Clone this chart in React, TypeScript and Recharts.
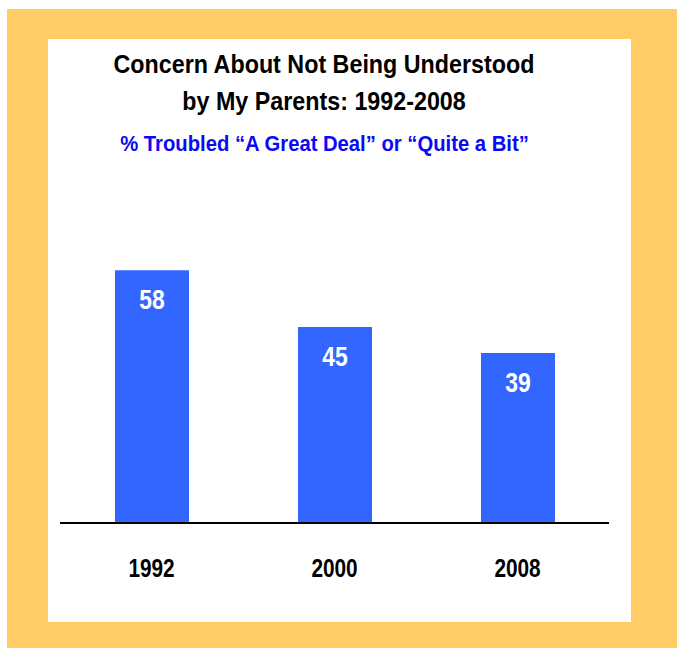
import React from "react";
import { BarChart, Bar, XAxis, YAxis, LabelList } from "recharts";

const years = ["1992", "2000", "2008"];
const values = [58, 45, 39];
const titleLines = ["Concern About Not Being Understood", "by My Parents: 1992-2008"];
const subtitle = "% Troubled \u201CA Great Deal\u201D or \u201CQuite a Bit\u201D";

const data = years.map((y, i) => ({ year: y, value: values[i] }));

const FONT = "'Liberation Sans', Arial, Helvetica, sans-serif";

const YearTick = (props: any) => {
  const { x, y, payload } = props;
  return (
    <g transform={`translate(${x},${y + 46}) scale(0.8,1)`}>
      <text x={0} y={0} textAnchor="middle" fontFamily={FONT} fontWeight="bold" fontSize={26} fill="#000">
        {payload.value}
      </text>
    </g>
  );
};

const ValueLabel = (props: any) => {
  const { x, y, width, value } = props;
  const cx = Number(x) + Number(width) / 2;
  return (
    <g transform={`translate(${cx},${Number(y) + 39}) scale(0.85,1)`}>
      <text x={0} y={0} textAnchor="middle" fontFamily={FONT} fontWeight="bold" fontSize={27} fill="#fff">
        {value}
      </text>
    </g>
  );
};

export default function App() {
  return (
    <div style={{ position: "absolute", left: 0, top: 0, width: 677, height: 648, background: "#fff" }}>
      <div style={{ position: "absolute", left: 7, top: 9, width: 670, height: 639, background: "#FFCC66" }} />
      <div style={{ position: "absolute", left: 48, top: 39, width: 583, height: 583, background: "#fff" }} />
      <div style={{ position: "absolute", left: 0, top: 0 }}>
        <BarChart
          width={677}
          height={648}
          data={data}
          margin={{ top: 218, right: 68, bottom: 95, left: 60 }}
          barCategoryGap={0}
        >
          <YAxis hide domain={[0, 70]} />
          <XAxis
            dataKey="year"
            height={30}
            axisLine={{ stroke: "#000", strokeWidth: 2 }}
            tickLine={false}
            tick={<YearTick />}
            interval={0}
          />
          <Bar dataKey="value" fill="#3366FF" barSize={74} isAnimationActive={false}>
            <LabelList dataKey="value" content={<ValueLabel />} />
          </Bar>
        </BarChart>
      </div>
      <svg width={677} height={648} style={{ position: "absolute", left: 0, top: 0, pointerEvents: "none" }}>
        <g transform="translate(324,73) scale(0.91,1)">
          <text x={0} y={0} textAnchor="middle" fontFamily={FONT} fontWeight="bold" fontSize={25.6} fill="#000">
            {titleLines[0]}
          </text>
        </g>
        <g transform="translate(324,110) scale(0.91,1)">
          <text x={0} y={0} textAnchor="middle" fontFamily={FONT} fontWeight="bold" fontSize={25.6} fill="#000">
            {titleLines[1]}
          </text>
        </g>
        <g transform="translate(324.5,151) scale(0.9,1)">
          <text x={0} y={0} textAnchor="middle" fontFamily={FONT} fontWeight="bold" fontSize={22.5} fill="#0A0AF5">
            {subtitle}
          </text>
        </g>
      </svg>
    </div>
  );
}
